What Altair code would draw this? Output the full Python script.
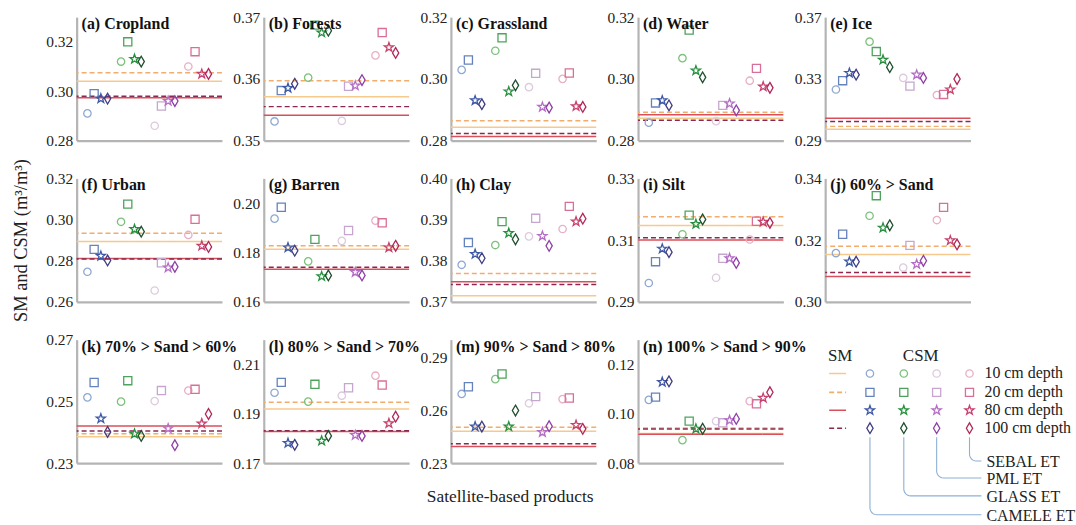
import math
import altair as alt
import pandas as pd

PRODUCTS = ["CAMELE ET", "GLASS ET", "PML ET", "SEBAL ET"]
DEPTHS = ["10 cm depth", "20 cm depth", "80 cm depth", "100 cm depth"]

TITLES = ["(a) Cropland", "(b) Forests", "(c) Grassland", "(d) Water", "(e) Ice",
          "(f) Urban", "(g) Barren", "(h) Clay", "(i) Silt", "(j) 60% > Sand",
          "(k) 70% > Sand > 60%", "(l) 80% > Sand > 70%", "(m) 90% > Sand > 80%",
          "(n) 100% > Sand > 90%"]

DOMAINS = [[0.28, 0.33], [0.35, 0.37], [0.28, 0.32], [0.28, 0.32], [0.29, 0.37],
           [0.26, 0.32], [0.16, 0.21], [0.37, 0.40], [0.29, 0.33], [0.30, 0.34],
           [0.23, 0.27], [0.17, 0.22], [0.23, 0.30], [0.08, 0.13]]

TICKS = [[0.28, 0.30, 0.32], [0.35, 0.36, 0.37], [0.28, 0.30, 0.32], [0.28, 0.30, 0.32],
         [0.29, 0.33, 0.37], [0.26, 0.28, 0.30, 0.32], [0.16, 0.18, 0.20],
         [0.37, 0.38, 0.39, 0.40], [0.29, 0.31, 0.33], [0.30, 0.32, 0.34],
         [0.23, 0.25, 0.27], [0.17, 0.19, 0.21], [0.23, 0.26, 0.29], [0.08, 0.10, 0.12]]

# CSM values: CAMELE(10,20,80,100), GLASS(...), PML(...), SEBAL(...)
CSM_A = [0.291, 0.299, 0.297, 0.297, 0.312, 0.320, 0.313, 0.312, 0.286, 0.294, 0.296, 0.296, 0.310, 0.316, 0.307, 0.307]
CSM_B = [0.3531, 0.3581, 0.3585, 0.3592, 0.3602, 0.3687, 0.3675, 0.3678, 0.3532, 0.3588, 0.3589, 0.3598, 0.3638, 0.3675, 0.3651, 0.3642]
CSM_C = [0.3029, 0.3061, 0.2930, 0.2918, 0.3091, 0.3133, 0.2959, 0.2979, 0.2973, 0.3018, 0.2909, 0.2907, 0.3000, 0.3019, 0.2911, 0.2909]
CSM_D = [0.2858, 0.2922, 0.2930, 0.2914, 0.3067, 0.3158, 0.3027, 0.3005, 0.2863, 0.2914, 0.2920, 0.2898, 0.2994, 0.3034, 0.2975, 0.2971]
CSM_E = [0.3231, 0.3288, 0.3338, 0.3327, 0.3541, 0.3477, 0.3423, 0.3376, 0.3306, 0.3253, 0.3327, 0.3306, 0.3195, 0.3199, 0.3231, 0.3299]
CSM_F = [0.2746, 0.2855, 0.2823, 0.2801, 0.2989, 0.3075, 0.2953, 0.2941, 0.2655, 0.2790, 0.2766, 0.2770, 0.2925, 0.3001, 0.2872, 0.2867]
CSM_G = [0.1937, 0.1983, 0.1820, 0.1807, 0.1764, 0.1853, 0.1703, 0.1707, 0.1847, 0.1889, 0.1720, 0.1707, 0.1929, 0.1920, 0.1820, 0.1827]
CSM_H = [0.3790, 0.3844, 0.3816, 0.3806, 0.3838, 0.3895, 0.3867, 0.3852, 0.3859, 0.3903, 0.3860, 0.3836, 0.3877, 0.3932, 0.3895, 0.3902]
CSM_I = [0.2961, 0.3030, 0.3072, 0.3061, 0.3119, 0.3181, 0.3152, 0.3167, 0.2978, 0.3041, 0.3041, 0.3026, 0.3102, 0.3161, 0.3159, 0.3156]
CSM_J = [0.3158, 0.3219, 0.3130, 0.3130, 0.3279, 0.3344, 0.3240, 0.3248, 0.3111, 0.3183, 0.3122, 0.3133, 0.3265, 0.3306, 0.3199, 0.3186]
CSM_K = [0.2513, 0.2561, 0.2444, 0.2401, 0.2499, 0.2567, 0.2395, 0.2388, 0.2501, 0.2535, 0.2412, 0.2358, 0.2535, 0.2539, 0.2428, 0.2459]
CSM_L = [0.1985, 0.2027, 0.1781, 0.1774, 0.1949, 0.2019, 0.1790, 0.1810, 0.1973, 0.2005, 0.1813, 0.1810, 0.2054, 0.2016, 0.1861, 0.1888]
CSM_M = [0.2692, 0.2733, 0.2507, 0.2507, 0.2776, 0.2805, 0.2507, 0.2598, 0.2639, 0.2677, 0.2475, 0.2509, 0.2663, 0.2669, 0.2516, 0.2494]
CSM_N = [0.1056, 0.1067, 0.1128, 0.1131, 0.0893, 0.0970, 0.0939, 0.0939, 0.0970, 0.0963, 0.0973, 0.0979, 0.1051, 0.1040, 0.1064, 0.1087]

# SM values (10, 20, 80, 100 cm)
SM_A = [0.3040, 0.3075, 0.2973, 0.2980]
SM_B = [0.3571, 0.3597, 0.3541, 0.3555]
SM_C = [0.2843, 0.2864, 0.2813, 0.2823]
SM_D = [0.2872, 0.2892, 0.2884, 0.2866]
SM_E = [0.2974, 0.2992, 0.3045, 0.3024]
SM_F = [0.2893, 0.2933, 0.2811, 0.2808]
SM_G = [0.1813, 0.1827, 0.1732, 0.1740]
SM_H = [0.3715, 0.3769, 0.3749, 0.3742]
SM_I = [0.3147, 0.3176, 0.3100, 0.3108]
SM_J = [0.3153, 0.3180, 0.3082, 0.3095]
SM_K = [0.2385, 0.2395, 0.2420, 0.2404]
SM_L = [0.1919, 0.1946, 0.1828, 0.1831]
SM_M = [0.2481, 0.2503, 0.2394, 0.2409]
SM_N = [0.0920, 0.0942, 0.0917, 0.0938]

CSM_ALL = [CSM_A, CSM_B, CSM_C, CSM_D, CSM_E, CSM_F, CSM_G, CSM_H, CSM_I, CSM_J, CSM_K, CSM_L, CSM_M, CSM_N]
SM_ALL = [SM_A, SM_B, SM_C, SM_D, SM_E, SM_F, SM_G, SM_H, SM_I, SM_J, SM_K, SM_L, SM_M, SM_N]

CSM_COLORS = {
    "CAMELE ET": ["#8ea8d2", "#6482bb", "#3d58a6", "#3e3c82"],
    "GLASS ET": ["#7cc17c", "#4ea35c", "#27903e", "#1f4f2e"],
    "PML ET": ["#dccbdc", "#c6a6cf", "#b46ec6", "#8f3fa6"],
    "SEBAL ET": ["#e8afc7", "#d96f98", "#c8406c", "#b0275a"],
}
SM_COLORS = ["#f6c98c", "#f2ad6c", "#d9505a", "#8a2850"]
SM_DASH = [[1, 0], [5, 3], [1, 0], [5, 3]]

FONT = "Liberation Serif"
AXIS_GRAY = "#b4b4b4"
W, H = 146, 124


def star_path(r_out=1.3, r_in=0.52):
    pts = []
    for k in range(10):
        a = math.radians(-90 + 36 * k)
        r = r_out if k % 2 == 0 else r_in
        pts.append(f"{r * math.cos(a):.3f},{r * math.sin(a):.3f}")
    return "M" + "L".join(pts) + "Z"


SHAPES = ["circle", "M-1.1,-1.1L1.1,-1.1L1.1,1.1L-1.1,1.1Z", star_path(),
          "M0,-1.45L0.85,0L0,1.45L-0.85,0Z"]
KEYS = [f"{p}|{d}" for p in PRODUCTS for d in DEPTHS]
KEY_COLORS = [c for p in PRODUCTS for c in CSM_COLORS[p]]


def panel(i, ytitle=None, xtitle=None):
    rows = []
    for g, p in enumerate(PRODUCTS):
        for d, dep in enumerate(DEPTHS):
            rows.append({"pos": g * 5 + d, "val": CSM_ALL[i][g * 4 + d],
                         "key": f"{p}|{dep}", "depth": dep})
    df = pd.DataFrame(rows)
    sm_df = pd.DataFrame({"depth": DEPTHS, "val": SM_ALL[i]})

    yaxis_kw = dict(values=TICKS[i], format=".2f", ticks=False, grid=False,
                    domainColor=AXIS_GRAY, domainWidth=2.2, labelFont=FONT,
                    labelFontSize=15.5, labelColor="#222222", labelPadding=4)
    if ytitle:
        yaxis = alt.Axis(title=ytitle, titleFont=FONT, titleFontSize=18.5,
                         titleFontWeight="normal", titleColor="#222222",
                         titlePadding=15, **yaxis_kw)
    else:
        yaxis = alt.Axis(title=None, **yaxis_kw)
    xaxis_kw = dict(labels=False, ticks=False, grid=False, domainColor=AXIS_GRAY,
                    domainWidth=2.2)
    if xtitle:
        xaxis = alt.Axis(title=xtitle, titleFont=FONT, titleFontSize=17.5,
                         titleFontWeight="normal", titleColor="#222222",
                         titlePadding=25, titleX=59, **xaxis_kw)
    else:
        xaxis = alt.Axis(title=None, **xaxis_kw)

    xs = alt.Scale(domain=[-1.6, 20], nice=False)
    ys = alt.Scale(domain=DOMAINS[i], nice=False, zero=False)

    rules = alt.Chart(sm_df).mark_rule(strokeWidth=1.5).encode(
        y=alt.Y("val:Q", scale=ys, axis=yaxis),
        color=alt.Color("depth:N", scale=alt.Scale(domain=DEPTHS, range=SM_COLORS), legend=None),
        strokeDash=alt.StrokeDash("depth:N", scale=alt.Scale(domain=DEPTHS, range=SM_DASH), legend=None),
    )
    pts = alt.Chart(df).mark_point(filled=False, strokeWidth=1.3, size=55, opacity=1).encode(
        x=alt.X("pos:Q", scale=xs, axis=xaxis),
        y=alt.Y("val:Q", scale=ys, axis=yaxis),
        color=alt.Color("key:N", scale=alt.Scale(domain=KEYS, range=KEY_COLORS), legend=None),
        shape=alt.Shape("depth:N", scale=alt.Scale(domain=DEPTHS, range=SHAPES), legend=None),
    )
    title = alt.Chart(pd.DataFrame({"t": [TITLES[i]]})).mark_text(
        align="left", baseline="top", font=FONT, fontSize=16, fontWeight="bold",
        color="#111111").encode(text="t:N", x=alt.value(5), y=alt.value(-1))
    return alt.layer(rules, pts, title).resolve_scale(color="independent").properties(width=W, height=H)


# ---------- custom legend panel ----------
DX, DY = 6, 4
LEG_ROW_Y = [30 + DY, 49 + DY, 67 + DY, 85 + DY]
LEG_COL_X = [39 + DX, 73 + DX, 106 + DX, 139 + DX]
LEG_END_Y = [172 + DY, 153 + DY, 135 + DY, 118 + DY]

lx = alt.Scale(domain=[0, 240], nice=False)
ly = alt.Scale(domain=[0, 180], nice=False, reverse=True)

head_df = pd.DataFrame({"t": ["SM", "CSM"], "x": [9 + DX, 90 + DX], "y": [12 + DY, 12 + DY]})
head = alt.Chart(head_df).mark_text(font=FONT, fontSize=17, color="#222222").encode(
    x=alt.X("x:Q", scale=lx, axis=None), y=alt.Y("y:Q", scale=ly, axis=None), text="t:N")

smleg_df = pd.DataFrame({"depth": DEPTHS, "x0": [-2 + DX] * 4, "x1": [15 + DX] * 4, "y": LEG_ROW_Y})
smleg = alt.Chart(smleg_df).mark_rule(strokeWidth=1.6).encode(
    x=alt.X("x0:Q", scale=lx, axis=None), x2="x1:Q",
    y=alt.Y("y:Q", scale=ly, axis=None),
    color=alt.Color("depth:N", scale=alt.Scale(domain=DEPTHS, range=SM_COLORS), legend=None),
    strokeDash=alt.StrokeDash("depth:N", scale=alt.Scale(domain=DEPTHS, range=[[1, 0], [4, 3], [1, 0], [4, 3]]), legend=None))

sym_rows = []
for g, p in enumerate(PRODUCTS):
    for d, dep in enumerate(DEPTHS):
        sym_rows.append({"x": LEG_COL_X[g], "y": LEG_ROW_Y[d], "key": f"{p}|{dep}", "depth": dep})
symleg = alt.Chart(pd.DataFrame(sym_rows)).mark_point(filled=False, strokeWidth=1.3, size=55, opacity=1).encode(
    x=alt.X("x:Q", scale=lx, axis=None), y=alt.Y("y:Q", scale=ly, axis=None),
    color=alt.Color("key:N", scale=alt.Scale(domain=KEYS, range=KEY_COLORS), legend=None),
    shape=alt.Shape("depth:N", scale=alt.Scale(domain=DEPTHS, range=SHAPES), legend=None))

deplab = alt.Chart(pd.DataFrame({"t": DEPTHS, "x": [154 + DX] * 4, "y": LEG_ROW_Y})).mark_text(
    align="left", font=FONT, fontSize=16, color="#222222").encode(
    x=alt.X("x:Q", scale=lx, axis=None), y=alt.Y("y:Q", scale=ly, axis=None), text="t:N")

lead_rows = []
R = 7
for g, p in enumerate(PRODUCTS):
    cx, by = LEG_COL_X[g], LEG_END_Y[g]
    arc = [(cx, 94 + DY)]
    for k in range(7):
        a = math.radians(15 * k)
        arc.append((cx + R - R * math.cos(a), by - R + R * math.sin(a)))
    arc.append((151 + DX, by))
    for o, (xx, yy) in enumerate(arc):
        lead_rows.append({"prod": p, "o": o, "x": xx, "y": yy})
leaders = alt.Chart(pd.DataFrame(lead_rows)).mark_line(strokeWidth=1.1, color="#8eb0d6").encode(
    x=alt.X("x:Q", scale=lx, axis=None), y=alt.Y("y:Q", scale=ly, axis=None),
    detail="prod:N", order="o:Q")

prodlab = alt.Chart(pd.DataFrame({"t": PRODUCTS, "x": [156 + DX] * 4, "y": [e + 1 for e in LEG_END_Y]})).mark_text(
    align="left", font=FONT, fontSize=16, color="#222222").encode(
    x=alt.X("x:Q", scale=lx, axis=None), y=alt.Y("y:Q", scale=ly, axis=None), text="t:N")

legend = alt.layer(leaders, head, smleg, symleg, deplab, prodlab).resolve_scale(
    color="independent").properties(width=240, height=180)

cells = []
for i in range(14):
    cells.append(panel(i,
                       ytitle="SM and CSM (m³/m³)" if i == 5 else None,
                       xtitle="Satellite-based products" if i == 12 else None))
cells.append(legend)

chart = alt.concat(*cells, columns=5, spacing={"row": 38, "column": 42}, bounds="flush").properties(
    padding={"left": 11, "top": 9, "right": 0, "bottom": 0}, background="white"
).configure_view(stroke=None)

chart.save("out.html", embed_options={"renderer": "svg", "actions": False})
